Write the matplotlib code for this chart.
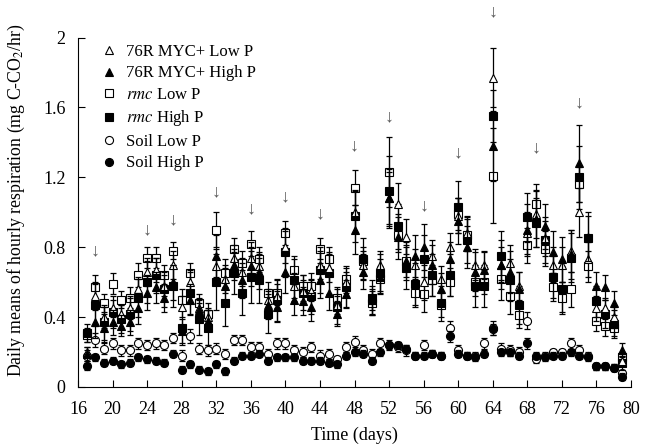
import matplotlib
matplotlib.use("Agg")
import matplotlib.pyplot as plt

plt.rcParams['font.family'] = ['Liberation Serif', 'DejaVu Serif']
plt.rcParams['mathtext.fontset'] = 'stix'

days = list(range(17, 80))

# 76R MYC+ Low P (open triangle)
myc_low = [0.20, 0.52, 0.40, 0.45, 0.42, 0.45, 0.56, 0.66, 0.67, 0.58,
           0.70, 0.46, 0.60, 0.45, 0.40, 0.69, 0.62, 0.74, 0.66, 0.74,
           0.69, 0.50, 0.52, 0.80, 0.58, 0.55, 0.55, 0.70, 0.68, 0.47,
           0.60, 1.00, 0.70, 0.50, 0.70, 1.08, 1.05, 0.86, 0.70, 0.60,
           0.75, 0.62, 0.80, 0.98, 0.88, 0.70, 0.70, 1.77, 0.70, 0.71,
           0.58, 0.88, 0.99, 0.85, 0.70, 0.70, 0.78, 1.00, 0.73, 0.45,
           0.45, 0.40, 0.15]
myc_low_err = [0.03, 0.08, 0.06, 0.05, 0.05, 0.06, 0.07, 0.08, 0.07, 0.06,
               0.08, 0.06, 0.07, 0.05, 0.05, 0.10, 0.08, 0.07, 0.08, 0.09,
               0.08, 0.06, 0.07, 0.09, 0.07, 0.06, 0.06, 0.08, 0.08, 0.05,
               0.06, 0.12, 0.08, 0.06, 0.08, 0.15, 0.12, 0.10, 0.09, 0.10,
               0.09, 0.07, 0.08, 0.10, 0.10, 0.09, 0.08, 0.17, 0.10, 0.10,
               0.08, 0.12, 0.14, 0.10, 0.10, 0.10, 0.12, 0.14, 0.10, 0.07,
               0.06, 0.06, 0.03]

# 76R MYC+ High P (filled triangle)
myc_high = [0.19, 0.37, 0.34, 0.37, 0.35, 0.37, 0.45, 0.54, 0.57, 0.51,
            0.60, 0.32, 0.50, 0.44, 0.38, 0.75, 0.58, 0.70, 0.61, 0.69,
            0.66, 0.47, 0.46, 0.66, 0.50, 0.49, 0.46, 0.61, 0.54, 0.42,
            0.53, 0.90, 0.66, 0.50, 0.63, 1.08, 0.86, 0.72, 0.75, 0.80,
            0.70, 0.56, 0.73, 0.95, 0.80, 0.66, 0.67, 1.38, 0.70, 0.66,
            0.56, 0.90, 0.96, 0.92, 0.77, 0.73, 0.76, 1.28, 0.86, 0.58,
            0.57, 0.48, 0.21]
myc_high_err = [0.04, 0.09, 0.08, 0.07, 0.06, 0.07, 0.09, 0.10, 0.09, 0.08,
                0.10, 0.07, 0.09, 0.07, 0.06, 0.12, 0.10, 0.09, 0.10, 0.11,
                0.10, 0.08, 0.09, 0.12, 0.09, 0.08, 0.08, 0.10, 0.10, 0.07,
                0.08, 0.14, 0.10, 0.08, 0.10, 0.17, 0.13, 0.11, 0.12, 0.13,
                0.11, 0.09, 0.10, 0.13, 0.12, 0.11, 0.10, 0.20, 0.14, 0.12,
                0.10, 0.15, 0.16, 0.13, 0.12, 0.13, 0.14, 0.22, 0.14, 0.08,
                0.07, 0.07, 0.04]

# rmc Low P (open square)
rmc_low = [0.30, 0.57, 0.48, 0.59, 0.50, 0.51, 0.64, 0.74, 0.74, 0.64,
           0.78, 0.50, 0.65, 0.48, 0.42, 0.90, 0.65, 0.79, 0.71, 0.82,
           0.73, 0.54, 0.54, 0.88, 0.67, 0.58, 0.58, 0.79, 0.73, 0.51,
           0.62, 1.14, 0.72, 0.48, 0.62, 1.23, 0.87, 0.72, 0.54, 0.53,
           0.61, 0.47, 0.60, 0.99, 0.87, 0.60, 0.60, 1.21, 0.62, 0.52,
           0.41, 0.81, 1.05, 0.79, 0.57, 0.51, 0.56, 1.16, 0.69, 0.38,
           0.35, 0.34, 0.17]
rmc_low_err = [0.04, 0.07, 0.05, 0.06, 0.05, 0.06, 0.07, 0.06, 0.06, 0.06,
               0.05, 0.06, 0.06, 0.05, 0.06, 0.10, 0.08, 0.06, 0.07, 0.07,
               0.07, 0.06, 0.07, 0.07, 0.08, 0.06, 0.07, 0.06, 0.07, 0.06,
               0.07, 0.10, 0.08, 0.07, 0.07, 0.20, 0.10, 0.09, 0.08, 0.10,
               0.09, 0.07, 0.08, 0.09, 0.09, 0.08, 0.07, 0.27, 0.12, 0.10,
               0.07, 0.10, 0.11, 0.10, 0.08, 0.09, 0.10, 0.10, 0.09, 0.06,
               0.06, 0.05, 0.03]

# rmc High P (filled square)
rmc_high = [0.31, 0.47, 0.37, 0.43, 0.39, 0.42, 0.51, 0.60, 0.64, 0.56,
            0.58, 0.34, 0.54, 0.39, 0.34, 0.60, 0.48, 0.65, 0.54, 0.63,
            0.61, 0.42, 0.50, 0.77, 0.61, 0.54, 0.52, 0.67, 0.65, 0.46,
            0.57, 0.98, 0.73, 0.51, 0.65, 1.12, 0.92, 0.68, 0.59, 0.73,
            0.64, 0.48, 0.64, 1.03, 0.84, 0.58, 0.58, 1.55, 0.75, 0.61,
            0.47, 0.97, 0.94, 0.84, 0.63, 0.56, 0.74, 1.20, 0.85, 0.49,
            0.42, 0.36, 0.14]
rmc_high_err = [0.05, 0.12, 0.10, 0.09, 0.08, 0.10, 0.11, 0.12, 0.10, 0.10,
                0.12, 0.10, 0.12, 0.09, 0.10, 0.16, 0.13, 0.12, 0.13, 0.15,
                0.13, 0.11, 0.12, 0.14, 0.12, 0.10, 0.10, 0.13, 0.12, 0.10,
                0.11, 0.15, 0.12, 0.10, 0.11, 0.20, 0.13, 0.12, 0.12, 0.14,
                0.12, 0.10, 0.12, 0.15, 0.13, 0.12, 0.12, 0.15, 0.14, 0.12,
                0.11, 0.14, 0.14, 0.13, 0.12, 0.13, 0.14, 0.18, 0.13, 0.09,
                0.08, 0.08, 0.04]

# Soil Low P (open circle)
soil_low = [0.18, 0.27, 0.22, 0.25, 0.21, 0.21, 0.25, 0.24, 0.25, 0.24,
            0.28, 0.18, 0.29, 0.22, 0.21, 0.22, 0.19, 0.27, 0.27, 0.23,
            0.23, 0.19, 0.25, 0.25, 0.21, 0.20, 0.23, 0.18, 0.19, 0.16,
            0.23, 0.26, 0.21, 0.19, 0.25, 0.24, 0.23, 0.21, 0.18, 0.24,
            0.19, 0.18, 0.34, 0.21, 0.18, 0.18, 0.25, 0.34, 0.22, 0.21,
            0.20, 0.38, 0.16, 0.18, 0.20, 0.20, 0.25, 0.21, 0.18, 0.12,
            0.12, 0.11, 0.08]
soil_low_err = [0.03, 0.04, 0.03, 0.03, 0.03, 0.03, 0.03, 0.03, 0.03, 0.03,
                0.03, 0.03, 0.04, 0.03, 0.03, 0.03, 0.03, 0.03, 0.03, 0.03,
                0.03, 0.03, 0.03, 0.03, 0.03, 0.03, 0.03, 0.03, 0.03, 0.02,
                0.03, 0.03, 0.03, 0.03, 0.03, 0.03, 0.03, 0.03, 0.02, 0.03,
                0.02, 0.02, 0.04, 0.03, 0.02, 0.02, 0.03, 0.04, 0.03, 0.03,
                0.03, 0.05, 0.02, 0.02, 0.02, 0.02, 0.03, 0.03, 0.02, 0.02,
                0.02, 0.02, 0.02]

# Soil High P (filled circle)
soil_high = [0.12, 0.17, 0.14, 0.15, 0.13, 0.14, 0.17, 0.16, 0.15, 0.14,
             0.19, 0.10, 0.13, 0.10, 0.09, 0.13, 0.09, 0.15, 0.18, 0.18,
             0.19, 0.15, 0.17, 0.17, 0.17, 0.15, 0.15, 0.15, 0.14, 0.13,
             0.18, 0.20, 0.19, 0.15, 0.20, 0.24, 0.24, 0.22, 0.18, 0.18,
             0.19, 0.18, 0.29, 0.19, 0.18, 0.17, 0.19, 0.33, 0.20, 0.20,
             0.18, 0.25, 0.18, 0.17, 0.18, 0.18, 0.20, 0.18, 0.17, 0.12,
             0.12, 0.11, 0.06]
soil_high_err = [0.02, 0.02, 0.02, 0.02, 0.02, 0.02, 0.02, 0.02, 0.02, 0.02,
                 0.02, 0.02, 0.02, 0.02, 0.02, 0.02, 0.02, 0.02, 0.02, 0.02,
                 0.02, 0.02, 0.02, 0.02, 0.02, 0.02, 0.02, 0.02, 0.02, 0.02,
                 0.02, 0.02, 0.02, 0.02, 0.02, 0.02, 0.02, 0.02, 0.02, 0.02,
                 0.02, 0.02, 0.03, 0.02, 0.02, 0.02, 0.02, 0.03, 0.02, 0.02,
                 0.02, 0.03, 0.02, 0.02, 0.02, 0.02, 0.02, 0.02, 0.02, 0.02,
                 0.02, 0.02, 0.02]

# days marked with an arrow, and the height of each arrow
arrow_days = [18, 24, 27, 32, 36, 40, 44, 48, 52, 56, 60, 64, 69, 74]
arrow_y = [0.73, 0.85, 0.91, 1.07, 0.97, 1.04, 0.94, 1.33, 1.50, 0.99, 1.29, 2.10, 1.32, 1.58]

fig = plt.figure(figsize=(6.51, 4.46), dpi=100)
ax = fig.add_axes([0.1198, 0.1323, 0.8495, 0.7836])

series = [
    (soil_low, soil_low_err, 'o', 'white', 'Soil Low P'),
    (soil_high, soil_high_err, 'o', 'black', 'Soil High P'),
    (rmc_low, rmc_low_err, 's', 'white', r'$\it{rmc}$ Low P'),
    (rmc_high, rmc_high_err, 's', 'black', r'$\it{rmc}$ High P'),
    (myc_low, myc_low_err, '^', 'white', '76R MYC+ Low P'),
    (myc_high, myc_high_err, '^', 'black', '76R MYC+ High P'),
]

handles = {}
for vals, err, mk, fc, lab in series:
    ax.errorbar(days, vals, yerr=err, fmt='none', ecolor='black',
                elinewidth=0.9, capsize=2.5, capthick=0.9)
    h, = ax.plot(days, vals, linestyle='none', marker=mk, markersize=5.8,
                 markerfacecolor=fc, markeredgecolor='black', markeredgewidth=0.8,
                 label=lab)
    handles[lab] = h

order = ['76R MYC+ Low P', '76R MYC+ High P', r'$\it{rmc}$ Low P',
         r'$\it{rmc}$ High P', 'Soil Low P', 'Soil High P']
ax.legend([handles[k] for k in order], order, loc='upper left',
          bbox_to_anchor=(0.02, 1.015), frameon=False, fontsize=12,
          handlelength=1.0, handletextpad=0.5, labelspacing=0.33,
          borderaxespad=0.3)

for d, yv in zip(arrow_days, arrow_y):
    ax.text(d, yv, '\u2193', ha='center', va='bottom', fontsize=13,
            color='0.35', clip_on=False)

ax.set_xlim(16, 80)
ax.set_ylim(0, 2)
ax.set_xticks(range(16, 81, 4))
ax.set_yticks([0, 0.4, 0.8, 1.2, 1.6, 2])
ax.set_yticklabels(['0', '0.4', '0.8', '1.2', '1.6', '2'])
ax.tick_params(direction='in', length=5, width=0.8, labelsize=13)
ax.tick_params(axis='x', pad=10)
ax.tick_params(axis='y', pad=9)
ax.spines['top'].set_visible(False)
ax.spines['right'].set_visible(False)

ax.set_xlabel('Time (days)', fontsize=13, labelpad=6)
ax.set_ylabel(r'Daily means of hourly respiration (mg C-CO$_2$/hr)',
              fontsize=12.8)
ax.yaxis.set_label_coords(-0.092, 0.535)

fig.savefig('out.png', dpi=100)
